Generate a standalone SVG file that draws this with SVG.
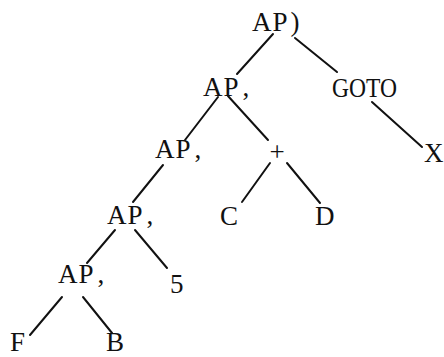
<svg xmlns="http://www.w3.org/2000/svg" width="444" height="357" viewBox="0 0 444 357">
<style>
text{font-family:"Liberation Serif","DejaVu Serif",serif;font-size:27px;fill:#111;}
.e{stroke:#111;stroke-width:2;fill:none;stroke-linecap:round;}
</style>
<rect width="444" height="357" fill="#fff"/>
<g id="connectors">
<line class="e" x1="273" y1="34" x2="237" y2="74"/>
<line class="e" x1="295" y1="38" x2="337" y2="72"/>
<line class="e" x1="218" y1="97" x2="185" y2="140"/>
<line class="e" x1="228" y1="96" x2="268" y2="140"/>
<line class="e" x1="372" y1="102" x2="422" y2="147"/>
<line class="e" x1="163" y1="165" x2="133" y2="202"/>
<line class="e" x1="270" y1="163" x2="242" y2="202"/>
<line class="e" x1="287" y1="163" x2="320" y2="203"/>
<line class="e" x1="115" y1="230" x2="87" y2="263"/>
<line class="e" x1="135" y1="230" x2="167" y2="268"/>
<line class="e" x1="62" y1="297" x2="30" y2="335"/>
<line class="e" x1="83" y1="297" x2="112" y2="333"/>
</g>
<g id="n_root"><text x="252" y="31" letter-spacing="1">AP<tspan dx="2">)</tspan></text></g>
<g id="n_ap1"><text x="203" y="96" letter-spacing="1">AP<tspan dx="6">,</tspan></text></g>
<g id="n_goto"><text x="332" y="97" textLength="65" lengthAdjust="spacingAndGlyphs">GOTO</text></g>
<g id="n_ap2"><text x="155" y="158" letter-spacing="1">AP<tspan dx="6">,</tspan></text></g>
<g id="n_plus"><text x="277" y="161" text-anchor="middle">+</text></g>
<g id="n_x"><text x="424" y="162">X</text></g>
<g id="n_ap3"><text x="107" y="224" letter-spacing="1">AP<tspan dx="6">,</tspan></text></g>
<g id="n_c"><text x="220" y="225">C</text></g>
<g id="n_d"><text x="315" y="225">D</text></g>
<g id="n_ap4"><text x="58" y="283" letter-spacing="1">AP<tspan dx="6">,</tspan></text></g>
<g id="n_5"><text x="170" y="293" font-size="30">5</text></g>
<g id="n_f"><text x="10" y="351">F</text></g>
<g id="n_b"><text x="106" y="351">B</text></g>
</svg>
